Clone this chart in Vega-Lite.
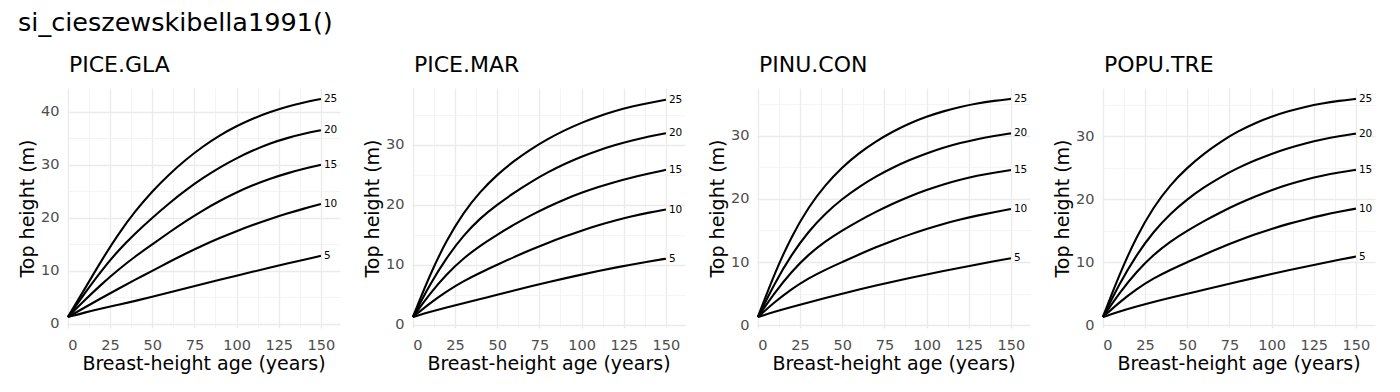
{
  "$schema": "https://vega.github.io/schema/vega-lite/v6.json",
  "background": "white",
  "padding": {"left": 18, "top": 10, "right": 5, "bottom": 5},
  "title": {"text": "si_cieszewskibella1991()", "anchor": "start", "fontSize": 25.5, "fontWeight": "normal", "font": "DejaVu Sans", "color": "black", "offset": 18},
  "datasets": {
    "curves": [
      {"sp":"PICE.GLA","si":25,"age":0,"h":1.3},{"sp":"PICE.GLA","si":25,"age":10,"h":6.6},{"sp":"PICE.GLA","si":25,"age":20,"h":12.0},{"sp":"PICE.GLA","si":25,"age":30,"h":17.0},{"sp":"PICE.GLA","si":25,"age":40,"h":21.3},{"sp":"PICE.GLA","si":25,"age":50,"h":25.0},{"sp":"PICE.GLA","si":25,"age":60,"h":28.2},{"sp":"PICE.GLA","si":25,"age":70,"h":31.0},{"sp":"PICE.GLA","si":25,"age":80,"h":33.45},{"sp":"PICE.GLA","si":25,"age":90,"h":35.55},{"sp":"PICE.GLA","si":25,"age":100,"h":37.3},{"sp":"PICE.GLA","si":25,"age":110,"h":38.75},{"sp":"PICE.GLA","si":25,"age":120,"h":39.95},{"sp":"PICE.GLA","si":25,"age":130,"h":40.95},{"sp":"PICE.GLA","si":25,"age":140,"h":41.75},{"sp":"PICE.GLA","si":25,"age":150,"h":42.4},
      {"sp":"PICE.GLA","si":20,"age":0,"h":1.3},{"sp":"PICE.GLA","si":20,"age":10,"h":5.8},{"sp":"PICE.GLA","si":20,"age":20,"h":10.1},{"sp":"PICE.GLA","si":20,"age":30,"h":13.9},{"sp":"PICE.GLA","si":20,"age":40,"h":17.1},{"sp":"PICE.GLA","si":20,"age":50,"h":20.0},{"sp":"PICE.GLA","si":20,"age":60,"h":22.75},{"sp":"PICE.GLA","si":20,"age":70,"h":25.25},{"sp":"PICE.GLA","si":20,"age":80,"h":27.5},{"sp":"PICE.GLA","si":20,"age":90,"h":29.5},{"sp":"PICE.GLA","si":20,"age":100,"h":31.25},{"sp":"PICE.GLA","si":20,"age":110,"h":32.75},{"sp":"PICE.GLA","si":20,"age":120,"h":34.05},{"sp":"PICE.GLA","si":20,"age":130,"h":35.05},{"sp":"PICE.GLA","si":20,"age":140,"h":35.85},{"sp":"PICE.GLA","si":20,"age":150,"h":36.5},
      {"sp":"PICE.GLA","si":15,"age":0,"h":1.3},{"sp":"PICE.GLA","si":15,"age":10,"h":4.5},{"sp":"PICE.GLA","si":15,"age":20,"h":7.5},{"sp":"PICE.GLA","si":15,"age":30,"h":10.25},{"sp":"PICE.GLA","si":15,"age":40,"h":12.75},{"sp":"PICE.GLA","si":15,"age":50,"h":15.0},{"sp":"PICE.GLA","si":15,"age":60,"h":17.25},{"sp":"PICE.GLA","si":15,"age":70,"h":19.4},{"sp":"PICE.GLA","si":15,"age":80,"h":21.4},{"sp":"PICE.GLA","si":15,"age":90,"h":23.2},{"sp":"PICE.GLA","si":15,"age":100,"h":24.8},{"sp":"PICE.GLA","si":15,"age":110,"h":26.2},{"sp":"PICE.GLA","si":15,"age":120,"h":27.4},{"sp":"PICE.GLA","si":15,"age":130,"h":28.4},{"sp":"PICE.GLA","si":15,"age":140,"h":29.25},{"sp":"PICE.GLA","si":15,"age":150,"h":30.0},
      {"sp":"PICE.GLA","si":10,"age":0,"h":1.3},{"sp":"PICE.GLA","si":10,"age":10,"h":3.1},{"sp":"PICE.GLA","si":10,"age":20,"h":4.9},{"sp":"PICE.GLA","si":10,"age":30,"h":6.65},{"sp":"PICE.GLA","si":10,"age":40,"h":8.35},{"sp":"PICE.GLA","si":10,"age":50,"h":10.0},{"sp":"PICE.GLA","si":10,"age":60,"h":11.7},{"sp":"PICE.GLA","si":10,"age":70,"h":13.3},{"sp":"PICE.GLA","si":10,"age":80,"h":14.8},{"sp":"PICE.GLA","si":10,"age":90,"h":16.2},{"sp":"PICE.GLA","si":10,"age":100,"h":17.5},{"sp":"PICE.GLA","si":10,"age":110,"h":18.7},{"sp":"PICE.GLA","si":10,"age":120,"h":19.8},{"sp":"PICE.GLA","si":10,"age":130,"h":20.8},{"sp":"PICE.GLA","si":10,"age":140,"h":21.75},{"sp":"PICE.GLA","si":10,"age":150,"h":22.6},
      {"sp":"PICE.GLA","si":5,"age":0,"h":1.3},{"sp":"PICE.GLA","si":5,"age":10,"h":2.15},{"sp":"PICE.GLA","si":5,"age":20,"h":2.91},{"sp":"PICE.GLA","si":5,"age":30,"h":3.63},{"sp":"PICE.GLA","si":5,"age":40,"h":4.35},{"sp":"PICE.GLA","si":5,"age":50,"h":5.1},{"sp":"PICE.GLA","si":5,"age":60,"h":5.92},{"sp":"PICE.GLA","si":5,"age":70,"h":6.73},{"sp":"PICE.GLA","si":5,"age":80,"h":7.53},{"sp":"PICE.GLA","si":5,"age":90,"h":8.32},{"sp":"PICE.GLA","si":5,"age":100,"h":9.1},{"sp":"PICE.GLA","si":5,"age":110,"h":9.87},{"sp":"PICE.GLA","si":5,"age":120,"h":10.63},{"sp":"PICE.GLA","si":5,"age":130,"h":11.38},{"sp":"PICE.GLA","si":5,"age":140,"h":12.12},{"sp":"PICE.GLA","si":5,"age":150,"h":12.85},

      {"sp":"PICE.MAR","si":25,"age":0,"h":1.3},{"sp":"PICE.MAR","si":25,"age":10,"h":8.3},{"sp":"PICE.MAR","si":25,"age":20,"h":14.1},{"sp":"PICE.MAR","si":25,"age":30,"h":18.7},{"sp":"PICE.MAR","si":25,"age":40,"h":22.2},{"sp":"PICE.MAR","si":25,"age":50,"h":25.0},{"sp":"PICE.MAR","si":25,"age":60,"h":27.3},{"sp":"PICE.MAR","si":25,"age":70,"h":29.25},{"sp":"PICE.MAR","si":25,"age":80,"h":30.95},{"sp":"PICE.MAR","si":25,"age":90,"h":32.4},{"sp":"PICE.MAR","si":25,"age":100,"h":33.65},{"sp":"PICE.MAR","si":25,"age":110,"h":34.7},{"sp":"PICE.MAR","si":25,"age":120,"h":35.6},{"sp":"PICE.MAR","si":25,"age":130,"h":36.35},{"sp":"PICE.MAR","si":25,"age":140,"h":36.95},{"sp":"PICE.MAR","si":25,"age":150,"h":37.45},
      {"sp":"PICE.MAR","si":20,"age":0,"h":1.3},{"sp":"PICE.MAR","si":20,"age":10,"h":6.7},{"sp":"PICE.MAR","si":20,"age":20,"h":11.2},{"sp":"PICE.MAR","si":20,"age":30,"h":14.9},{"sp":"PICE.MAR","si":20,"age":40,"h":17.8},{"sp":"PICE.MAR","si":20,"age":50,"h":20.0},{"sp":"PICE.MAR","si":20,"age":60,"h":22.0},{"sp":"PICE.MAR","si":20,"age":70,"h":23.8},{"sp":"PICE.MAR","si":20,"age":80,"h":25.4},{"sp":"PICE.MAR","si":20,"age":90,"h":26.8},{"sp":"PICE.MAR","si":20,"age":100,"h":28.0},{"sp":"PICE.MAR","si":20,"age":110,"h":29.05},{"sp":"PICE.MAR","si":20,"age":120,"h":29.95},{"sp":"PICE.MAR","si":20,"age":130,"h":30.7},{"sp":"PICE.MAR","si":20,"age":140,"h":31.35},{"sp":"PICE.MAR","si":20,"age":150,"h":31.9},
      {"sp":"PICE.MAR","si":15,"age":0,"h":1.3},{"sp":"PICE.MAR","si":15,"age":10,"h":5.2},{"sp":"PICE.MAR","si":15,"age":20,"h":8.45},{"sp":"PICE.MAR","si":15,"age":30,"h":11.1},{"sp":"PICE.MAR","si":15,"age":40,"h":13.2},{"sp":"PICE.MAR","si":15,"age":50,"h":15.0},{"sp":"PICE.MAR","si":15,"age":60,"h":16.7},{"sp":"PICE.MAR","si":15,"age":70,"h":18.25},{"sp":"PICE.MAR","si":15,"age":80,"h":19.65},{"sp":"PICE.MAR","si":15,"age":90,"h":20.9},{"sp":"PICE.MAR","si":15,"age":100,"h":22.0},{"sp":"PICE.MAR","si":15,"age":110,"h":22.95},{"sp":"PICE.MAR","si":15,"age":120,"h":23.8},{"sp":"PICE.MAR","si":15,"age":130,"h":24.55},{"sp":"PICE.MAR","si":15,"age":140,"h":25.2},{"sp":"PICE.MAR","si":15,"age":150,"h":25.8},
      {"sp":"PICE.MAR","si":10,"age":0,"h":1.3},{"sp":"PICE.MAR","si":10,"age":10,"h":3.6},{"sp":"PICE.MAR","si":10,"age":20,"h":5.6},{"sp":"PICE.MAR","si":10,"age":30,"h":7.3},{"sp":"PICE.MAR","si":10,"age":40,"h":8.7},{"sp":"PICE.MAR","si":10,"age":50,"h":10.0},{"sp":"PICE.MAR","si":10,"age":60,"h":11.3},{"sp":"PICE.MAR","si":10,"age":70,"h":12.5},{"sp":"PICE.MAR","si":10,"age":80,"h":13.65},{"sp":"PICE.MAR","si":10,"age":90,"h":14.7},{"sp":"PICE.MAR","si":10,"age":100,"h":15.7},{"sp":"PICE.MAR","si":10,"age":110,"h":16.6},{"sp":"PICE.MAR","si":10,"age":120,"h":17.4},{"sp":"PICE.MAR","si":10,"age":130,"h":18.1},{"sp":"PICE.MAR","si":10,"age":140,"h":18.7},{"sp":"PICE.MAR","si":10,"age":150,"h":19.2},
      {"sp":"PICE.MAR","si":5,"age":0,"h":1.3},{"sp":"PICE.MAR","si":5,"age":10,"h":2.15},{"sp":"PICE.MAR","si":5,"age":20,"h":2.9},{"sp":"PICE.MAR","si":5,"age":30,"h":3.62},{"sp":"PICE.MAR","si":5,"age":40,"h":4.32},{"sp":"PICE.MAR","si":5,"age":50,"h":5.0},{"sp":"PICE.MAR","si":5,"age":60,"h":5.72},{"sp":"PICE.MAR","si":5,"age":70,"h":6.42},{"sp":"PICE.MAR","si":5,"age":80,"h":7.1},{"sp":"PICE.MAR","si":5,"age":90,"h":7.75},{"sp":"PICE.MAR","si":5,"age":100,"h":8.37},{"sp":"PICE.MAR","si":5,"age":110,"h":8.97},{"sp":"PICE.MAR","si":5,"age":120,"h":9.54},{"sp":"PICE.MAR","si":5,"age":130,"h":10.07},{"sp":"PICE.MAR","si":5,"age":140,"h":10.57},{"sp":"PICE.MAR","si":5,"age":150,"h":11.02},

      {"sp":"PINU.CON","si":25,"age":0,"h":1.3},{"sp":"PINU.CON","si":25,"age":10,"h":8.3},{"sp":"PINU.CON","si":25,"age":20,"h":14.1},{"sp":"PINU.CON","si":25,"age":30,"h":18.7},{"sp":"PINU.CON","si":25,"age":40,"h":22.2},{"sp":"PINU.CON","si":25,"age":50,"h":25.0},{"sp":"PINU.CON","si":25,"age":60,"h":27.25},{"sp":"PINU.CON","si":25,"age":70,"h":29.1},{"sp":"PINU.CON","si":25,"age":80,"h":30.65},{"sp":"PINU.CON","si":25,"age":90,"h":31.95},{"sp":"PINU.CON","si":25,"age":100,"h":33.0},{"sp":"PINU.CON","si":25,"age":110,"h":33.85},{"sp":"PINU.CON","si":25,"age":120,"h":34.55},{"sp":"PINU.CON","si":25,"age":130,"h":35.1},{"sp":"PINU.CON","si":25,"age":140,"h":35.5},{"sp":"PINU.CON","si":25,"age":150,"h":35.8},
      {"sp":"PINU.CON","si":20,"age":0,"h":1.3},{"sp":"PINU.CON","si":20,"age":10,"h":6.7},{"sp":"PINU.CON","si":20,"age":20,"h":11.2},{"sp":"PINU.CON","si":20,"age":30,"h":14.85},{"sp":"PINU.CON","si":20,"age":40,"h":17.7},{"sp":"PINU.CON","si":20,"age":50,"h":20.0},{"sp":"PINU.CON","si":20,"age":60,"h":21.9},{"sp":"PINU.CON","si":20,"age":70,"h":23.55},{"sp":"PINU.CON","si":20,"age":80,"h":24.95},{"sp":"PINU.CON","si":20,"age":90,"h":26.15},{"sp":"PINU.CON","si":20,"age":100,"h":27.2},{"sp":"PINU.CON","si":20,"age":110,"h":28.1},{"sp":"PINU.CON","si":20,"age":120,"h":28.85},{"sp":"PINU.CON","si":20,"age":130,"h":29.45},{"sp":"PINU.CON","si":20,"age":140,"h":29.95},{"sp":"PINU.CON","si":20,"age":150,"h":30.35},
      {"sp":"PINU.CON","si":15,"age":0,"h":1.3},{"sp":"PINU.CON","si":15,"age":10,"h":5.2},{"sp":"PINU.CON","si":15,"age":20,"h":8.5},{"sp":"PINU.CON","si":15,"age":30,"h":11.2},{"sp":"PINU.CON","si":15,"age":40,"h":13.3},{"sp":"PINU.CON","si":15,"age":50,"h":15.0},{"sp":"PINU.CON","si":15,"age":60,"h":16.55},{"sp":"PINU.CON","si":15,"age":70,"h":17.95},{"sp":"PINU.CON","si":15,"age":80,"h":19.25},{"sp":"PINU.CON","si":15,"age":90,"h":20.4},{"sp":"PINU.CON","si":15,"age":100,"h":21.4},{"sp":"PINU.CON","si":15,"age":110,"h":22.3},{"sp":"PINU.CON","si":15,"age":120,"h":23.05},{"sp":"PINU.CON","si":15,"age":130,"h":23.65},{"sp":"PINU.CON","si":15,"age":140,"h":24.15},{"sp":"PINU.CON","si":15,"age":150,"h":24.55},
      {"sp":"PINU.CON","si":10,"age":0,"h":1.3},{"sp":"PINU.CON","si":10,"age":10,"h":3.7},{"sp":"PINU.CON","si":10,"age":20,"h":5.75},{"sp":"PINU.CON","si":10,"age":30,"h":7.45},{"sp":"PINU.CON","si":10,"age":40,"h":8.8},{"sp":"PINU.CON","si":10,"age":50,"h":10.0},{"sp":"PINU.CON","si":10,"age":60,"h":11.2},{"sp":"PINU.CON","si":10,"age":70,"h":12.35},{"sp":"PINU.CON","si":10,"age":80,"h":13.4},{"sp":"PINU.CON","si":10,"age":90,"h":14.35},{"sp":"PINU.CON","si":10,"age":100,"h":15.25},{"sp":"PINU.CON","si":10,"age":110,"h":16.05},{"sp":"PINU.CON","si":10,"age":120,"h":16.75},{"sp":"PINU.CON","si":10,"age":130,"h":17.35},{"sp":"PINU.CON","si":10,"age":140,"h":17.9},{"sp":"PINU.CON","si":10,"age":150,"h":18.4},
      {"sp":"PINU.CON","si":5,"age":0,"h":1.3},{"sp":"PINU.CON","si":5,"age":10,"h":2.15},{"sp":"PINU.CON","si":5,"age":20,"h":2.9},{"sp":"PINU.CON","si":5,"age":30,"h":3.62},{"sp":"PINU.CON","si":5,"age":40,"h":4.32},{"sp":"PINU.CON","si":5,"age":50,"h":5.0},{"sp":"PINU.CON","si":5,"age":60,"h":5.66},{"sp":"PINU.CON","si":5,"age":70,"h":6.29},{"sp":"PINU.CON","si":5,"age":80,"h":6.9},{"sp":"PINU.CON","si":5,"age":90,"h":7.48},{"sp":"PINU.CON","si":5,"age":100,"h":8.04},{"sp":"PINU.CON","si":5,"age":110,"h":8.59},{"sp":"PINU.CON","si":5,"age":120,"h":9.12},{"sp":"PINU.CON","si":5,"age":130,"h":9.63},{"sp":"PINU.CON","si":5,"age":140,"h":10.13},{"sp":"PINU.CON","si":5,"age":150,"h":10.6},

      {"sp":"POPU.TRE","si":25,"age":0,"h":1.3},{"sp":"POPU.TRE","si":25,"age":10,"h":8.2},{"sp":"POPU.TRE","si":25,"age":20,"h":14.1},{"sp":"POPU.TRE","si":25,"age":30,"h":18.75},{"sp":"POPU.TRE","si":25,"age":40,"h":22.3},{"sp":"POPU.TRE","si":25,"age":50,"h":25.0},{"sp":"POPU.TRE","si":25,"age":60,"h":27.25},{"sp":"POPU.TRE","si":25,"age":70,"h":29.15},{"sp":"POPU.TRE","si":25,"age":80,"h":30.75},{"sp":"POPU.TRE","si":25,"age":90,"h":32.05},{"sp":"POPU.TRE","si":25,"age":100,"h":33.1},{"sp":"POPU.TRE","si":25,"age":110,"h":33.95},{"sp":"POPU.TRE","si":25,"age":120,"h":34.65},{"sp":"POPU.TRE","si":25,"age":130,"h":35.2},{"sp":"POPU.TRE","si":25,"age":140,"h":35.6},{"sp":"POPU.TRE","si":25,"age":150,"h":35.9},
      {"sp":"POPU.TRE","si":20,"age":0,"h":1.3},{"sp":"POPU.TRE","si":20,"age":10,"h":6.7},{"sp":"POPU.TRE","si":20,"age":20,"h":11.2},{"sp":"POPU.TRE","si":20,"age":30,"h":14.85},{"sp":"POPU.TRE","si":20,"age":40,"h":17.7},{"sp":"POPU.TRE","si":20,"age":50,"h":20.0},{"sp":"POPU.TRE","si":20,"age":60,"h":21.9},{"sp":"POPU.TRE","si":20,"age":70,"h":23.55},{"sp":"POPU.TRE","si":20,"age":80,"h":24.95},{"sp":"POPU.TRE","si":20,"age":90,"h":26.15},{"sp":"POPU.TRE","si":20,"age":100,"h":27.2},{"sp":"POPU.TRE","si":20,"age":110,"h":28.1},{"sp":"POPU.TRE","si":20,"age":120,"h":28.85},{"sp":"POPU.TRE","si":20,"age":130,"h":29.5},{"sp":"POPU.TRE","si":20,"age":140,"h":30.0},{"sp":"POPU.TRE","si":20,"age":150,"h":30.4},
      {"sp":"POPU.TRE","si":15,"age":0,"h":1.3},{"sp":"POPU.TRE","si":15,"age":10,"h":5.2},{"sp":"POPU.TRE","si":15,"age":20,"h":8.5},{"sp":"POPU.TRE","si":15,"age":30,"h":11.2},{"sp":"POPU.TRE","si":15,"age":40,"h":13.3},{"sp":"POPU.TRE","si":15,"age":50,"h":15.0},{"sp":"POPU.TRE","si":15,"age":60,"h":16.55},{"sp":"POPU.TRE","si":15,"age":70,"h":17.95},{"sp":"POPU.TRE","si":15,"age":80,"h":19.25},{"sp":"POPU.TRE","si":15,"age":90,"h":20.4},{"sp":"POPU.TRE","si":15,"age":100,"h":21.45},{"sp":"POPU.TRE","si":15,"age":110,"h":22.35},{"sp":"POPU.TRE","si":15,"age":120,"h":23.1},{"sp":"POPU.TRE","si":15,"age":130,"h":23.75},{"sp":"POPU.TRE","si":15,"age":140,"h":24.25},{"sp":"POPU.TRE","si":15,"age":150,"h":24.65},
      {"sp":"POPU.TRE","si":10,"age":0,"h":1.3},{"sp":"POPU.TRE","si":10,"age":10,"h":3.7},{"sp":"POPU.TRE","si":10,"age":20,"h":5.75},{"sp":"POPU.TRE","si":10,"age":30,"h":7.45},{"sp":"POPU.TRE","si":10,"age":40,"h":8.8},{"sp":"POPU.TRE","si":10,"age":50,"h":10.0},{"sp":"POPU.TRE","si":10,"age":60,"h":11.2},{"sp":"POPU.TRE","si":10,"age":70,"h":12.35},{"sp":"POPU.TRE","si":10,"age":80,"h":13.4},{"sp":"POPU.TRE","si":10,"age":90,"h":14.4},{"sp":"POPU.TRE","si":10,"age":100,"h":15.3},{"sp":"POPU.TRE","si":10,"age":110,"h":16.1},{"sp":"POPU.TRE","si":10,"age":120,"h":16.8},{"sp":"POPU.TRE","si":10,"age":130,"h":17.45},{"sp":"POPU.TRE","si":10,"age":140,"h":18.0},{"sp":"POPU.TRE","si":10,"age":150,"h":18.5},
      {"sp":"POPU.TRE","si":5,"age":0,"h":1.3},{"sp":"POPU.TRE","si":5,"age":10,"h":2.2},{"sp":"POPU.TRE","si":5,"age":20,"h":2.98},{"sp":"POPU.TRE","si":5,"age":30,"h":3.7},{"sp":"POPU.TRE","si":5,"age":40,"h":4.38},{"sp":"POPU.TRE","si":5,"age":50,"h":5.0},{"sp":"POPU.TRE","si":5,"age":60,"h":5.64},{"sp":"POPU.TRE","si":5,"age":70,"h":6.27},{"sp":"POPU.TRE","si":5,"age":80,"h":6.9},{"sp":"POPU.TRE","si":5,"age":90,"h":7.52},{"sp":"POPU.TRE","si":5,"age":100,"h":8.13},{"sp":"POPU.TRE","si":5,"age":110,"h":8.73},{"sp":"POPU.TRE","si":5,"age":120,"h":9.3},{"sp":"POPU.TRE","si":5,"age":130,"h":9.85},{"sp":"POPU.TRE","si":5,"age":140,"h":10.38},{"sp":"POPU.TRE","si":5,"age":150,"h":10.9}
    ]
  },
  "spacing": 72,
  "bounds": "flush",
  "hconcat": [
    {
      "width": 273, "height": 240,
      "title": {"text": "PICE.GLA", "anchor": "start", "frame": "group", "dx": 2},
      "data": {"name": "curves"},
      "transform": [{"filter": "datum.sp === 'PICE.GLA'"}],
      "encoding": {
        "x": {"field": "age", "type": "quantitative", "title": "Breast-height age (years)",
              "scale": {"domain": [-0.5, 161.3], "nice": false, "zero": false},
              "axis": {"values": [0,12.5,25,37.5,50,62.5,75,87.5,100,112.5,125,137.5,150],
                       "labelExpr": "datum.value % 25 === 0 ? datum.label : ''",
                       "gridColor": {"condition": {"test": "datum.value % 25 === 0", "value": "#EBEBEB"}, "value": "#F1F1F1"},
                       "gridWidth": {"condition": {"test": "datum.value % 25 === 0", "value": 1.3}, "value": 0.8}}},
        "y": {"field": "h", "type": "quantitative", "title": "Top height (m)",
              "scale": {"domain": [-0.76, 44.46], "nice": false, "zero": false},
              "axis": {"values": [0,5,10,15,20,25,30,35,40],
                       "labelExpr": "datum.value % 10 === 0 ? datum.label : ''",
                       "gridColor": {"condition": {"test": "datum.value % 10 === 0", "value": "#EBEBEB"}, "value": "#F1F1F1"},
                       "gridWidth": {"condition": {"test": "datum.value % 10 === 0", "value": 1.3}, "value": 0.8}}}
      },
      "layer": [
        {"mark": {"type": "line", "color": "black", "strokeWidth": 2.1, "interpolate": "basis"}, "encoding": {"detail": {"field": "si", "type": "nominal"}}},
        {"transform": [{"filter": "datum.age === 150"}], "mark": {"type": "text", "align": "left", "baseline": "middle", "dx": 3, "fontSize": 10.5, "font": "DejaVu Sans", "color": "black"}, "encoding": {"text": {"field": "si", "type": "quantitative"}}}
      ]
    },
    {
      "width": 273, "height": 240,
      "title": {"text": "PICE.MAR", "anchor": "start", "frame": "group", "dx": 2},
      "data": {"name": "curves"},
      "transform": [{"filter": "datum.sp === 'PICE.MAR'"}],
      "encoding": {
        "x": {"field": "age", "type": "quantitative", "title": "Breast-height age (years)",
              "scale": {"domain": [-0.5, 161.3], "nice": false, "zero": false},
              "axis": {"values": [0,12.5,25,37.5,50,62.5,75,87.5,100,112.5,125,137.5,150],
                       "labelExpr": "datum.value % 25 === 0 ? datum.label : ''",
                       "gridColor": {"condition": {"test": "datum.value % 25 === 0", "value": "#EBEBEB"}, "value": "#F1F1F1"},
                       "gridWidth": {"condition": {"test": "datum.value % 25 === 0", "value": 1.3}, "value": 0.8}}},
        "y": {"field": "h", "type": "quantitative", "title": "Top height (m)",
              "scale": {"domain": [-0.515, 39.415], "nice": false, "zero": false},
              "axis": {"values": [0,5,10,15,20,25,30,35],
                       "labelExpr": "datum.value % 10 === 0 ? datum.label : ''",
                       "gridColor": {"condition": {"test": "datum.value % 10 === 0", "value": "#EBEBEB"}, "value": "#F1F1F1"},
                       "gridWidth": {"condition": {"test": "datum.value % 10 === 0", "value": 1.3}, "value": 0.8}}}
      },
      "layer": [
        {"mark": {"type": "line", "color": "black", "strokeWidth": 2.1, "interpolate": "basis"}, "encoding": {"detail": {"field": "si", "type": "nominal"}}},
        {"transform": [{"filter": "datum.age === 150"}], "mark": {"type": "text", "align": "left", "baseline": "middle", "dx": 3, "fontSize": 10.5, "font": "DejaVu Sans", "color": "black"}, "encoding": {"text": {"field": "si", "type": "quantitative"}}}
      ]
    },
    {
      "width": 273, "height": 240,
      "title": {"text": "PINU.CON", "anchor": "start", "frame": "group", "dx": 2},
      "data": {"name": "curves"},
      "transform": [{"filter": "datum.sp === 'PINU.CON'"}],
      "encoding": {
        "x": {"field": "age", "type": "quantitative", "title": "Breast-height age (years)",
              "scale": {"domain": [-0.5, 161.3], "nice": false, "zero": false},
              "axis": {"values": [0,12.5,25,37.5,50,62.5,75,87.5,100,112.5,125,137.5,150],
                       "labelExpr": "datum.value % 25 === 0 ? datum.label : ''",
                       "gridColor": {"condition": {"test": "datum.value % 25 === 0", "value": "#EBEBEB"}, "value": "#F1F1F1"},
                       "gridWidth": {"condition": {"test": "datum.value % 25 === 0", "value": 1.3}, "value": 0.8}}},
        "y": {"field": "h", "type": "quantitative", "title": "Top height (m)",
              "scale": {"domain": [-0.42, 37.52], "nice": false, "zero": false},
              "axis": {"values": [0,5,10,15,20,25,30,35],
                       "labelExpr": "datum.value % 10 === 0 ? datum.label : ''",
                       "gridColor": {"condition": {"test": "datum.value % 10 === 0", "value": "#EBEBEB"}, "value": "#F1F1F1"},
                       "gridWidth": {"condition": {"test": "datum.value % 10 === 0", "value": 1.3}, "value": 0.8}}}
      },
      "layer": [
        {"mark": {"type": "line", "color": "black", "strokeWidth": 2.1, "interpolate": "basis"}, "encoding": {"detail": {"field": "si", "type": "nominal"}}},
        {"transform": [{"filter": "datum.age === 150"}], "mark": {"type": "text", "align": "left", "baseline": "middle", "dx": 3, "fontSize": 10.5, "font": "DejaVu Sans", "color": "black"}, "encoding": {"text": {"field": "si", "type": "quantitative"}}}
      ]
    },
    {
      "width": 273, "height": 240,
      "title": {"text": "POPU.TRE", "anchor": "start", "frame": "group", "dx": 2},
      "data": {"name": "curves"},
      "transform": [{"filter": "datum.sp === 'POPU.TRE'"}],
      "encoding": {
        "x": {"field": "age", "type": "quantitative", "title": "Breast-height age (years)",
              "scale": {"domain": [-0.5, 161.3], "nice": false, "zero": false},
              "axis": {"values": [0,12.5,25,37.5,50,62.5,75,87.5,100,112.5,125,137.5,150],
                       "labelExpr": "datum.value % 25 === 0 ? datum.label : ''",
                       "gridColor": {"condition": {"test": "datum.value % 25 === 0", "value": "#EBEBEB"}, "value": "#F1F1F1"},
                       "gridWidth": {"condition": {"test": "datum.value % 25 === 0", "value": 1.3}, "value": 0.8}}},
        "y": {"field": "h", "type": "quantitative", "title": "Top height (m)",
              "scale": {"domain": [-0.43, 37.63], "nice": false, "zero": false},
              "axis": {"values": [0,5,10,15,20,25,30,35],
                       "labelExpr": "datum.value % 10 === 0 ? datum.label : ''",
                       "gridColor": {"condition": {"test": "datum.value % 10 === 0", "value": "#EBEBEB"}, "value": "#F1F1F1"},
                       "gridWidth": {"condition": {"test": "datum.value % 10 === 0", "value": 1.3}, "value": 0.8}}}
      },
      "layer": [
        {"mark": {"type": "line", "color": "black", "strokeWidth": 2.1, "interpolate": "basis"}, "encoding": {"detail": {"field": "si", "type": "nominal"}}},
        {"transform": [{"filter": "datum.age === 150"}], "mark": {"type": "text", "align": "left", "baseline": "middle", "dx": 3, "fontSize": 10.5, "font": "DejaVu Sans", "color": "black"}, "encoding": {"text": {"field": "si", "type": "quantitative"}}}
      ]
    }
  ],
  "config": {
    "font": "DejaVu Sans",
    "view": {"stroke": null},
    "title": {"fontSize": 22, "fontWeight": "normal", "color": "black", "font": "DejaVu Sans", "offset": 11},
    "axis": {
      "domain": false, "ticks": false,
      "labelFont": "DejaVu Sans", "labelFontSize": 14.5, "labelColor": "#4D4D4D", "labelPadding": 8,
      "titleFont": "DejaVu Sans", "titleFontSize": 19, "titleFontWeight": "normal", "titleColor": "black", "titlePadding": 3.5,
      "labelOverlap": false
    },
    "axisX": {"labelPadding": 10, "titlePadding": 3}
  }
}
